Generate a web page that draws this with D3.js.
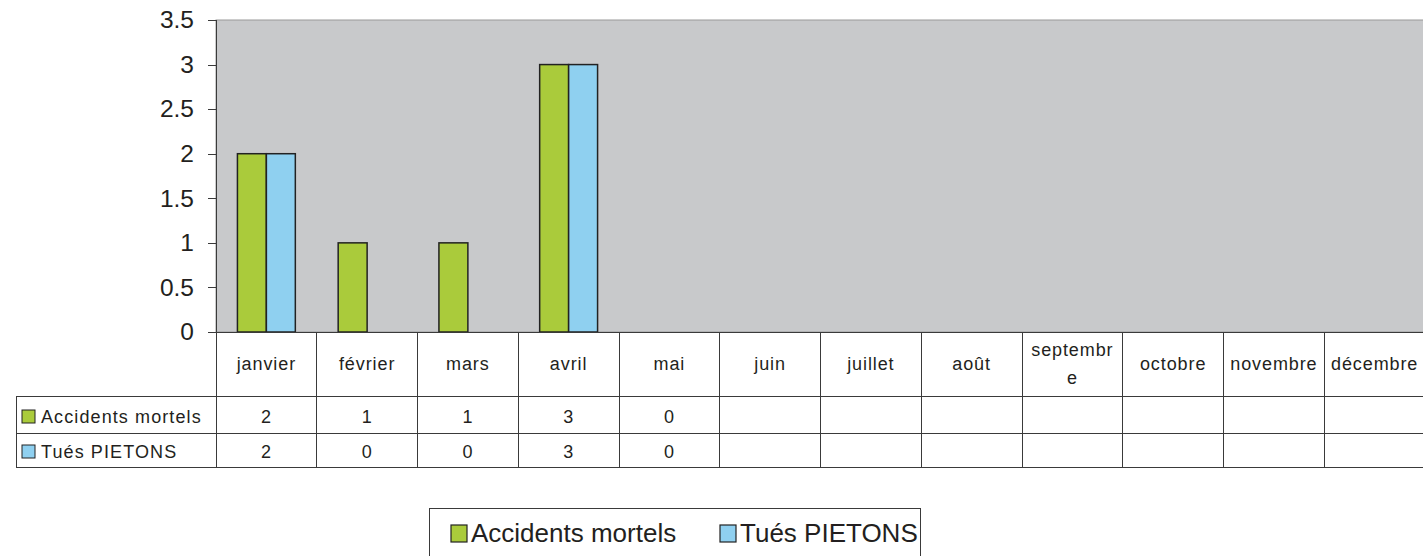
<!DOCTYPE html>
<meta charset="utf-8">
<style>
  html, body { margin: 0; padding: 0; overflow: hidden; background: #fff; }
  text { font-family: "Liberation Sans", Arial, sans-serif; fill: #231f20; }
  .axis path, .axis line { stroke: #3a3a3a; stroke-width: 1px; shape-rendering: crispEdges; }
  .axis text { font-size: 24.5px; font-family: "Liberation Sans", Arial, sans-serif; fill: #231f20; }
  .grid line { stroke: #3a3a3a; stroke-width: 1px; shape-rendering: crispEdges; }
  .cell { font-size: 18px; letter-spacing: 0.9px; }
  .bar { stroke: #222; stroke-width: 1.5px; }
  .legend text { font-size: 26px; }
</style>
<body>
<svg width="1423" height="556"></svg>
<script src="https://d3js.org/d3.v7.min.js"></script>
<script>

  var months = ["janvier", "février", "mars", "avril", "mai", "juin", "juillet",
                "août", "septembre", "octobre", "novembre", "décembre"];
  var seriesNames = ["Accidents mortels", "Tués PIETONS"];
  var accidents = [2, 1, 1, 3, 0, null, null, null, null, null, null, null];
  var pietons = [2, 0, 0, 3, 0, null, null, null, null, null, null, null];
  var yTicks = [0, 0.5, 1, 1.5, 2, 2.5, 3, 3.5];
  var yTickLabels = ["0", "0.5", "1", "1.5", "2", "2.5", "3", "3.5"];
  var colors = ["#aacb3b", "#8fd0f0"];

  var series = [accidents, pietons];

  var plotLeft = 216, plotTop = 20, plotBottom = 332,
      colW = 100.75,
      plotRight = plotLeft + colW * months.length;

  var svg = d3.select("svg");

  var x = d3.scaleBand().domain(months).range([plotLeft, plotRight]);
  var x1 = d3.scaleBand().domain(seriesNames).range([0, x.bandwidth()]).paddingOuter(0.74);
  var y = d3.scaleLinear().domain([0, 3.5]).range([plotBottom, plotTop]);

  // plot background
  svg.append("rect")
    .attr("x", plotLeft).attr("y", plotTop)
    .attr("width", plotRight - plotLeft).attr("height", plotBottom - plotTop)
    .style("fill", "#c8c9cb")
    .style("stroke", "#9a9a9a").style("stroke-width", 1);

  // bars
  series.forEach(function(vals, si) {
    svg.append("g")
      .selectAll("rect")
      .data(months.map(function(m, i) { return {month: m, value: vals[i]}; })
                  .filter(function(d) { return d.value > 0; }))
      .enter()
      .append("rect")
        .attr("class", "bar")
        .attr("x", function(d) { return x(d.month) + x1(seriesNames[si]); })
        .attr("y", function(d) { return y(d.value); })
        .attr("width", x1.bandwidth())
        .attr("height", function(d) { return y(0) - y(d.value); })
        .style("fill", colors[si]);
  });

  // y axis
  svg.append("g")
    .attr("class", "axis")
    .attr("transform", "translate(" + plotLeft + ",0)")
    .call(d3.axisLeft(y).tickValues(yTicks).tickSize(8).tickPadding(14)
      .tickFormat(function(d, i) { return yTickLabels[i]; }))
    .call(function(g) {
      g.attr("font-size", null).attr("font-family", null);
      g.select(".domain").attr("d", "M0," + plotTop + "V" + plotBottom);
    });

  // data table
  var headH = 64, rowH = [37, 34];
  var rowY = [plotBottom + headH, plotBottom + headH + rowH[0], plotBottom + headH + rowH[0] + rowH[1]];
  var tableLeft = 16;

  var grid = svg.append("g").attr("class", "grid");
  grid.append("line").attr("x1", plotLeft).attr("x2", plotRight + 5).attr("y1", plotBottom).attr("y2", plotBottom);
  rowY.forEach(function(yy) {
    grid.append("line").attr("x1", tableLeft).attr("x2", plotRight + 5).attr("y1", yy).attr("y2", yy);
  });
  grid.append("line").attr("x1", tableLeft).attr("x2", tableLeft).attr("y1", rowY[0]).attr("y2", rowY[2]);
  months.forEach(function(m) {
    grid.append("line").attr("x1", x(m)).attr("x2", x(m)).attr("y1", plotBottom).attr("y2", rowY[2]);
  });

  // month headers
  var heads = svg.append("g").selectAll("text")
    .data(months)
    .enter()
    .append("text")
      .attr("class", "cell")
      .attr("text-anchor", "middle")
      .attr("x", function(d) { return x(d) + x.bandwidth() / 2; })
      .attr("y", 370);
  heads.each(function(d) {
    var t = d3.select(this);
    if (d === "septembre") {
      t.append("tspan").attr("x", x(d) + x.bandwidth() / 2).attr("y", 356).text("septembr");
      t.append("tspan").attr("x", x(d) + x.bandwidth() / 2).attr("y", 384).text("e");
    } else {
      t.text(d);
    }
  });

  // rows
  series.forEach(function(vals, si) {
    var base = rowY[si] + (si === 0 ? 27 : 25);
    svg.append("rect")
      .attr("x", 22).attr("y", base - 13)
      .attr("width", 13).attr("height", 13)
      .style("fill", colors[si]).style("stroke", "#222").style("stroke-width", 1);
    svg.append("text")
      .attr("class", "cell")
      .attr("x", 41).attr("y", base)
      .style("letter-spacing", "1.1px")
      .text(seriesNames[si]);
    svg.append("g").selectAll("text")
      .data(months.map(function(m, i) { return {month: m, value: vals[i]}; })
                  .filter(function(d) { return d.value !== null; }))
      .enter()
      .append("text")
        .attr("class", "cell")
        .attr("text-anchor", "middle")
        .attr("x", function(d) { return x(d.month) + x.bandwidth() / 2; })
        .attr("y", base)
        .text(function(d) { return d.value; });
  });

  // legend
  var legend = svg.append("g").attr("class", "legend");
  legend.append("rect")
    .attr("x", 429.5).attr("y", 508.5)
    .attr("width", 491).attr("height", 70)
    .style("fill", "#fff").style("stroke", "#3a3a3a").style("stroke-width", 1);
  var legX = [451, 720];
  seriesNames.forEach(function(name, i) {
    legend.append("rect")
      .attr("x", legX[i]).attr("y", 525)
      .attr("width", 16).attr("height", 17)
      .style("fill", colors[i]).style("stroke", "#222").style("stroke-width", 1.2);
    legend.append("text")
      .attr("x", legX[i] + 20).attr("y", 542)
      .text(name);
  });

</script>
</body>
</html>
